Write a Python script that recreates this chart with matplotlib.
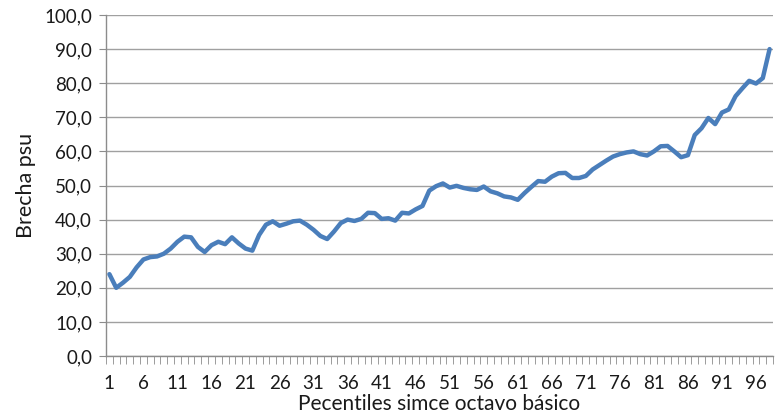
import numpy as np
import matplotlib
matplotlib.use("Agg")
import matplotlib.pyplot as plt

plt.rcParams['font.family'] = ['Lato', 'DejaVu Sans']

# percentiles and gap values
percentiles = list(range(1, 99))
brecha = [
    24.0, 20.0, 21.5, 23.2, 26.0, 28.3, 29.0, 29.2, 30.0, 31.5,
    33.5, 35.0, 34.8, 32.0, 30.5, 32.5, 33.5, 32.8, 34.8, 33.0,
    31.5, 30.9, 35.5, 38.5, 39.5, 38.2, 38.8, 39.5, 39.7, 38.5,
    37.0, 35.2, 34.3, 36.5, 39.0, 40.0, 39.6, 40.2, 42.0, 41.9,
    40.2, 40.4, 39.7, 42.0, 41.8, 43.0, 44.0, 48.5, 49.8, 50.6,
    49.4, 49.9, 49.3, 48.9, 48.7, 49.7, 48.3, 47.7, 46.8, 46.5,
    45.8, 47.8, 49.6, 51.3, 51.1, 52.6, 53.6, 53.7, 52.2, 52.2,
    52.8, 54.7, 56.0, 57.3, 58.5, 59.2, 59.7, 60.0, 59.2, 58.8,
    60.0, 61.5, 61.6, 60.0, 58.3, 58.9, 64.8, 66.8, 69.8, 68.0,
    71.4, 72.3, 76.2, 78.5, 80.7, 79.9, 81.5, 90.0,
]
x_labels = list(range(1, 99, 5))
y_ticks = list(range(0, 101, 10))

fig = plt.figure(figsize=(7.79, 4.18), dpi=100)
ax = fig.add_axes([106 / 779, 1 - 356 / 418, (773 - 106) / 779, (356 - 15) / 418])

ax.plot(percentiles, brecha, color='#4a7ebb', lw=3.2, solid_capstyle='round',
        solid_joinstyle='round', zorder=3, clip_on=False)

# categories sit between tick marks, like the spreadsheet chart
ax.set_xlim(0.5, len(percentiles) + 0.5)
ax.set_ylim(0, 100)
ax.set_yticks(y_ticks)
ax.set_yticklabels([f"{v},0" for v in y_ticks])
ax.set_xticks(np.arange(0.5, len(percentiles) + 1), minor=True)
ax.set_xticks(x_labels)
ax.set_xticklabels([str(v) for v in x_labels])

ax.grid(axis='y', color='#a0a0a0', lw=1.0, zorder=0)
for s in ['top', 'right']:
    ax.spines[s].set_visible(False)
for s in ['left', 'bottom']:
    ax.spines[s].set_color('#8c8c8c')
    ax.spines[s].set_linewidth(1.0)

ax.tick_params(axis='y', length=5, color='#8c8c8c', labelsize=13.5, pad=5,
               labelcolor='#1a1a1a')
ax.tick_params(axis='x', which='minor', length=6, color='#8c8c8c')
ax.tick_params(axis='x', which='major', length=0, labelsize=13.5, pad=14,
               labelcolor='#1a1a1a')

ax.set_xlabel('Pecentiles simce octavo básico', fontsize=15, color='#1a1a1a', labelpad=1)
ax.set_ylabel('Brecha psu', fontsize=15.5, color='#1a1a1a', labelpad=6)

fig.savefig('out.png', dpi=100)
